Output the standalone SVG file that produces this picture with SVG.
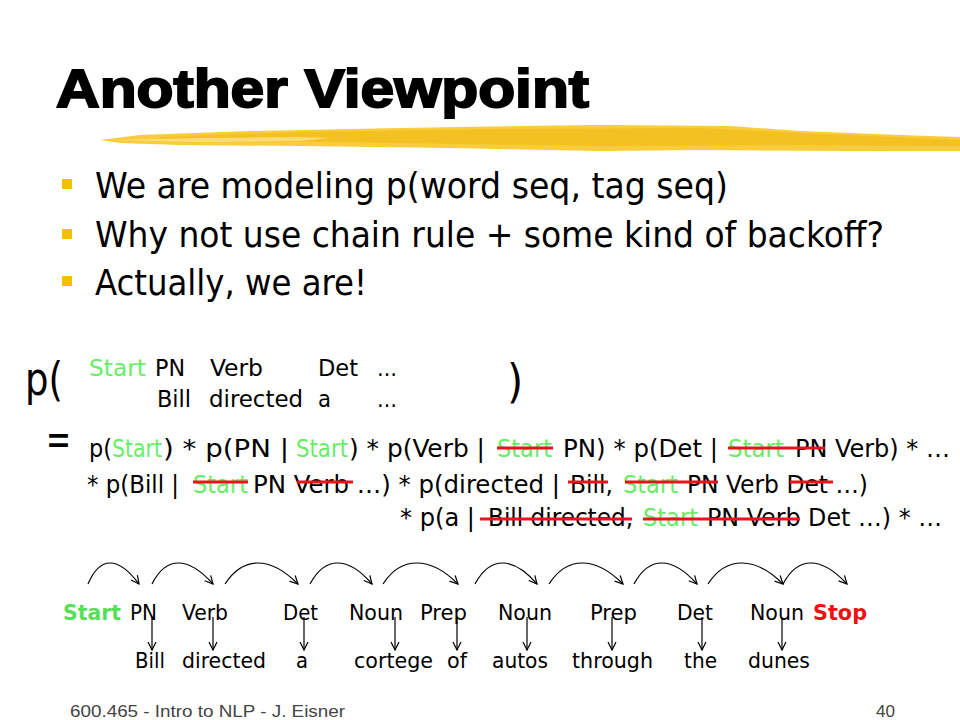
<svg xmlns="http://www.w3.org/2000/svg" width="960" height="720" viewBox="0 0 960 720">
<style>
.t{font-family:"DejaVu Sans Condensed","DejaVu Sans",sans-serif;fill:#000}
.g{fill:#66EE66}
.gb{font-family:"DejaVu Sans Condensed","DejaVu Sans",sans-serif;font-weight:bold;fill:#55E055}
.rb{font-family:"DejaVu Sans Condensed","DejaVu Sans",sans-serif;font-weight:bold;fill:#EE1111}
.eq{font-size:25px}
.row{font-size:23px}
.tag{font-size:22px}
.s{stroke:#E8141B;stroke-width:3;fill:none}
.arc{stroke:#000;stroke-width:1.2;fill:none}
.bul{fill:#F5C000}
.bt{font-size:35px}
</style>
<defs>
<marker id="ah" markerWidth="10" markerHeight="10" refX="9" refY="5" orient="auto" markerUnits="userSpaceOnUse">
<path d="M1,1 L9,5 L1,9" fill="none" stroke="#000" stroke-width="1.2"/>
</marker>
</defs>
<rect width="960" height="720" fill="#fff"/>

<g id="title">
<text x="56" y="107" font-family="'Liberation Sans',Arial,sans-serif" font-weight="900" font-size="54" textLength="533" lengthAdjust="spacingAndGlyphs" stroke="#000" stroke-width="2">Another Viewpoint</text>
</g>

<g id="brush">
<path d="M100,140 L140,135 L250,131 L400,128 L520,126 L600,125 L730,126 L800,131 L900,135 L960,137 L960,151 L850,151 L700,150 L600,151 L450,148 L300,146 L180,145 L120,143 Z" fill="#F8CC3A"/>
<path d="M160,137 L300,132 L500,129 L700,128 L800,133 L960,140 L960,146 L800,145 L600,146 L400,143 L250,141 L160,140 Z" fill="#F2BC1A" opacity="0.7"/>
<path d="M110,140 L200,138 L300,137 L330,138 L300,141 L200,142 Z" fill="#FBE08A" opacity="0.8"/>
</g>

<g id="bullets">
<rect class="bul" x="62" y="179" width="10" height="10"/>
<text class="t bt" x="95" y="198" textLength="633" lengthAdjust="spacingAndGlyphs">We are modeling p(word seq, tag seq)</text>
<rect class="bul" x="62" y="229" width="10" height="10"/>
<text class="t bt" x="95" y="247" textLength="789" lengthAdjust="spacingAndGlyphs">Why not use chain rule + some kind of backoff?</text>
<rect class="bul" x="62" y="276" width="10" height="10"/>
<text class="t bt" x="95" y="295" textLength="272" lengthAdjust="spacingAndGlyphs">Actually, we are!</text>
</g>

<g id="joint">
<text class="t" x="25" y="395" font-size="46" textLength="38" lengthAdjust="spacingAndGlyphs">p(</text>
<text class="t" x="507" y="397" font-size="46">)</text>
<text class="t row g" x="89" y="376" textLength="57" lengthAdjust="spacingAndGlyphs">Start</text>
<text class="t row" x="155" y="376" textLength="30" lengthAdjust="spacingAndGlyphs">PN</text>
<text class="t row" x="210" y="376" textLength="53" lengthAdjust="spacingAndGlyphs">Verb</text>
<text class="t row" x="318" y="376" textLength="40" lengthAdjust="spacingAndGlyphs">Det</text>
<text class="t row" x="377" y="376" textLength="20" lengthAdjust="spacingAndGlyphs">…</text>
<text class="t row" x="157" y="407" textLength="34" lengthAdjust="spacingAndGlyphs">Bill</text>
<text class="t row" x="209" y="407" textLength="94" lengthAdjust="spacingAndGlyphs">directed</text>
<text class="t row" x="318" y="407" textLength="13" lengthAdjust="spacingAndGlyphs">a</text>
<text class="t row" x="377" y="407" textLength="20" lengthAdjust="spacingAndGlyphs">…</text>
</g>

<g id="chain">
<text class="t" x="46" y="455" font-size="46" textLength="25" lengthAdjust="spacingAndGlyphs">=</text>
<text class="t eq" x="89" y="457" textLength="23" lengthAdjust="spacingAndGlyphs">p(</text>
<text class="t eq g" x="112" y="457" textLength="50" lengthAdjust="spacingAndGlyphs">Start</text>
<text class="t eq" x="163" y="457" textLength="126" lengthAdjust="spacingAndGlyphs">) * p(PN |</text>
<text class="t eq g" x="296" y="457" textLength="52" lengthAdjust="spacingAndGlyphs">Start</text>
<text class="t eq" x="349" y="457" textLength="136" lengthAdjust="spacingAndGlyphs">) * p(Verb |</text>
<text class="t eq g" x="497" y="457" textLength="55" lengthAdjust="spacingAndGlyphs">Start</text>
<text class="t eq" x="563" y="457" textLength="155" lengthAdjust="spacingAndGlyphs">PN) * p(Det |</text>
<text class="t eq g" x="728" y="457" textLength="56" lengthAdjust="spacingAndGlyphs">Start</text>
<text class="t eq" x="795" y="457" textLength="155" lengthAdjust="spacingAndGlyphs">PN Verb) * …</text>

<text class="t eq" x="87" y="493" textLength="92" lengthAdjust="spacingAndGlyphs">* p(Bill |</text>
<text class="t eq g" x="193" y="493" textLength="55" lengthAdjust="spacingAndGlyphs">Start</text>
<text class="t eq" x="253" y="493" textLength="307" lengthAdjust="spacingAndGlyphs">PN Verb …) * p(directed |</text>
<text class="t eq" x="570" y="493" textLength="43" lengthAdjust="spacingAndGlyphs">Bill,</text>
<text class="t eq g" x="623" y="493" textLength="55" lengthAdjust="spacingAndGlyphs">Start</text>
<text class="t eq" x="687" y="493" textLength="181" lengthAdjust="spacingAndGlyphs">PN Verb Det …)</text>

<text class="t eq" x="400" y="526" textLength="75" lengthAdjust="spacingAndGlyphs">* p(a |</text>
<text class="t eq" x="488" y="526" textLength="145" lengthAdjust="spacingAndGlyphs">Bill directed,</text>
<text class="t eq g" x="643" y="526" textLength="55" lengthAdjust="spacingAndGlyphs">Start</text>
<text class="t eq" x="707" y="526" textLength="235" lengthAdjust="spacingAndGlyphs">PN Verb Det …) * …</text>
</g>

<g id="strikes">
<line class="s" x1="497" y1="448" x2="553" y2="448"/>
<line class="s" x1="728" y1="448" x2="825" y2="448"/>
<line class="s" x1="193" y1="482" x2="248" y2="482"/>
<line class="s" x1="297" y1="482" x2="353" y2="482"/>
<line class="s" x1="568" y1="482" x2="608" y2="482"/>
<line class="s" x1="625" y1="482" x2="718" y2="482"/>
<line class="s" x1="790" y1="482" x2="833" y2="482"/>
<line class="s" x1="480" y1="519" x2="632" y2="519"/>
<line class="s" x1="643" y1="519" x2="800" y2="519"/>
</g>

<g id="tags">
<text class="gb tag" x="63" y="620" textLength="58" lengthAdjust="spacingAndGlyphs">Start</text>
<text class="t tag" x="130" y="620" textLength="27" lengthAdjust="spacingAndGlyphs">PN</text>
<text class="t tag" x="182" y="620" textLength="46" lengthAdjust="spacingAndGlyphs">Verb</text>
<text class="t tag" x="283" y="620" textLength="35" lengthAdjust="spacingAndGlyphs">Det</text>
<text class="t tag" x="349" y="620" textLength="54" lengthAdjust="spacingAndGlyphs">Noun</text>
<text class="t tag" x="420" y="620" textLength="47" lengthAdjust="spacingAndGlyphs">Prep</text>
<text class="t tag" x="498" y="620" textLength="54" lengthAdjust="spacingAndGlyphs">Noun</text>
<text class="t tag" x="590" y="620" textLength="47" lengthAdjust="spacingAndGlyphs">Prep</text>
<text class="t tag" x="677" y="620" textLength="36" lengthAdjust="spacingAndGlyphs">Det</text>
<text class="t tag" x="750" y="620" textLength="54" lengthAdjust="spacingAndGlyphs">Noun</text>
<text class="rb tag" x="813" y="620" textLength="54" lengthAdjust="spacingAndGlyphs">Stop</text>
</g>

<g id="words">
<text class="t tag" x="135" y="668" textLength="30" lengthAdjust="spacingAndGlyphs">Bill</text>
<text class="t tag" x="182" y="668" textLength="84" lengthAdjust="spacingAndGlyphs">directed</text>
<text class="t tag" x="296" y="668" textLength="12" lengthAdjust="spacingAndGlyphs">a</text>
<text class="t tag" x="354" y="668" textLength="79" lengthAdjust="spacingAndGlyphs">cortege</text>
<text class="t tag" x="447" y="668" textLength="20" lengthAdjust="spacingAndGlyphs">of</text>
<text class="t tag" x="492" y="668" textLength="56" lengthAdjust="spacingAndGlyphs">autos</text>
<text class="t tag" x="572" y="668" textLength="81" lengthAdjust="spacingAndGlyphs">through</text>
<text class="t tag" x="684" y="668" textLength="33" lengthAdjust="spacingAndGlyphs">the</text>
<text class="t tag" x="748" y="668" textLength="62" lengthAdjust="spacingAndGlyphs">dunes</text>
</g>

<g id="connectors">
<path class="arc" marker-end="url(#ah)" d="M88,584 C100,556 118,556 139,584"/>
<path class="arc" marker-end="url(#ah)" d="M152,584 C166,556 188,556 213,584"/>
<path class="arc" marker-end="url(#ah)" d="M225,584 C243,556 270,556 298,584"/>
<path class="arc" marker-end="url(#ah)" d="M310,584 C325,556 348,556 372,584"/>
<path class="arc" marker-end="url(#ah)" d="M383,584 C401,556 430,556 458,584"/>
<path class="arc" marker-end="url(#ah)" d="M475,584 C490,556 513,556 537,584"/>
<path class="arc" marker-end="url(#ah)" d="M549,584 C567,556 595,556 623,584"/>
<path class="arc" marker-end="url(#ah)" d="M634,584 C649,556 672,556 697,584"/>
<path class="arc" marker-end="url(#ah)" d="M708,584 C726,556 755,556 783,584"/>
<path class="arc" marker-end="url(#ah)" d="M783,584 C798,556 821,556 847,584"/>
<line class="arc" marker-end="url(#ah)" x1="152" y1="617" x2="152" y2="650"/>
<line class="arc" marker-end="url(#ah)" x1="213" y1="617" x2="213" y2="650"/>
<line class="arc" marker-end="url(#ah)" x1="304" y1="617" x2="304" y2="650"/>
<line class="arc" marker-end="url(#ah)" x1="395" y1="617" x2="395" y2="650"/>
<line class="arc" marker-end="url(#ah)" x1="457" y1="617" x2="457" y2="650"/>
<line class="arc" marker-end="url(#ah)" x1="527" y1="617" x2="527" y2="650"/>
<line class="arc" marker-end="url(#ah)" x1="612" y1="617" x2="612" y2="650"/>
<line class="arc" marker-end="url(#ah)" x1="702" y1="617" x2="702" y2="650"/>
<line class="arc" marker-end="url(#ah)" x1="782" y1="617" x2="782" y2="650"/>
</g>

<g id="footer">
<text x="70" y="717" font-family="'Liberation Sans',Arial,sans-serif" font-size="17" fill="#444" textLength="275" lengthAdjust="spacingAndGlyphs">600.465 - Intro to NLP - J. Eisner</text>
<text x="876" y="717" font-family="'Liberation Sans',Arial,sans-serif" font-size="17" fill="#444" textLength="19" lengthAdjust="spacingAndGlyphs">40</text>
</g>
</svg>
